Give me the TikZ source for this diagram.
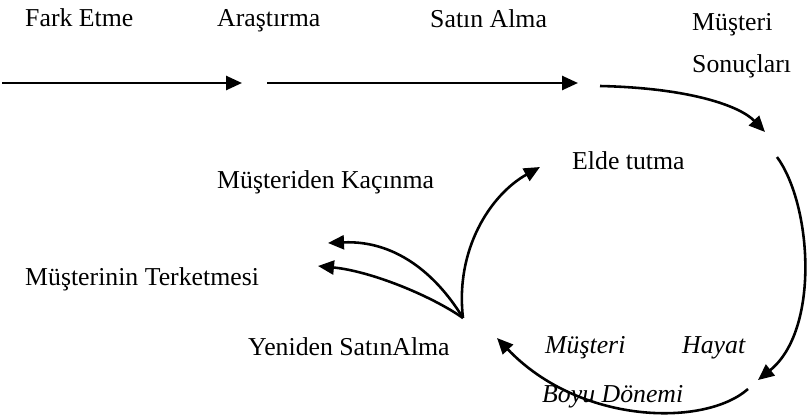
\documentclass[tikz,border=0pt]{standalone}
\usepackage{fontspec}
\setmainfont{Liberation Serif}
\usetikzlibrary{arrows.meta}

\begin{document}
\begin{tikzpicture}[
    x=0.03cm, y=-0.03cm,
    stage/.style={inner sep=0, anchor=base west, font=\fontsize{22}{26}\selectfont},
    istage/.style={stage, font=\fontsize{22}{26}\selectfont\itshape},
    arrow/.style={-{Triangle[length=0.48cm, width=0.42cm]}, line width=2.2pt}
]
\useasboundingbox (0,0) rectangle (807,417);

% Top row
\node[stage] (fark) at (25,26) {Fark Etme};
\node[stage] (arastirma) at (217,26) {Araştırma};
\node[stage] (satin) at (430,27) {Satın Alma};
\node[stage] (musteri) at (692,30) {Müşteri};
\node[stage] (sonuc) at (692,72) {Sonuçları};

% Middle
\node[stage] (elde) at (572,169) {Elde tutma};
\node[stage] (kacinma) at (217,188) {Müşteriden Kaçınma};
\node[stage] (terk) at (25,285) {Müşterinin Terketmesi};
\node[stage] (yeniden) at (248,355) {Yeniden SatınAlma};

% Cycle title
\node[istage] (yasam1) at (545,353) {Müşteri};
\node[istage] (hayat) at (682,353) {Hayat};
\node[istage] (boyu) at (542,402) {Boyu Dönemi};

% Arrow ends
\coordinate (a1s) at (2,83);
\coordinate (a1e) at (242,83);
\coordinate (a2s) at (267,83);
\coordinate (a2e) at (578,83);
\coordinate (c3s) at (600,86);
\coordinate (c3e) at (765,132);
\coordinate (c4s) at (777,157);
\coordinate (c4e) at (758,380);
\coordinate (c5s) at (748,389);
\coordinate (c5e) at (497,338);
\coordinate (fan) at (463,318);
\coordinate (c6e) at (540,167);
\coordinate (c7e) at (328,243);
\coordinate (c8e) at (318,266);

% Straight arrows
\draw[arrow] (a1s) -- (a1e);
\draw[arrow] (a2s) -- (a2e);

% Cycle
\draw[arrow] (c3s) .. controls +(90,2) and +(-25,-26) .. (c3e);
\draw[arrow] (c4s) .. controls +(35,48) and +(62,-50) .. (c4e);
\draw[arrow] (c5s) .. controls +(-43,38) and +(83,87) .. (c5e);

% From re-purchase
\draw[arrow] (fan) .. controls +(-8,-68) and +(-50,28) .. (c6e);
\draw[arrow] (fan) .. controls +(-23,-38) and +(72,-3) .. (c7e);
\draw[arrow] (fan) .. controls +(-33,-23) and +(52,5) .. (c8e);

\end{tikzpicture}
\end{document}
